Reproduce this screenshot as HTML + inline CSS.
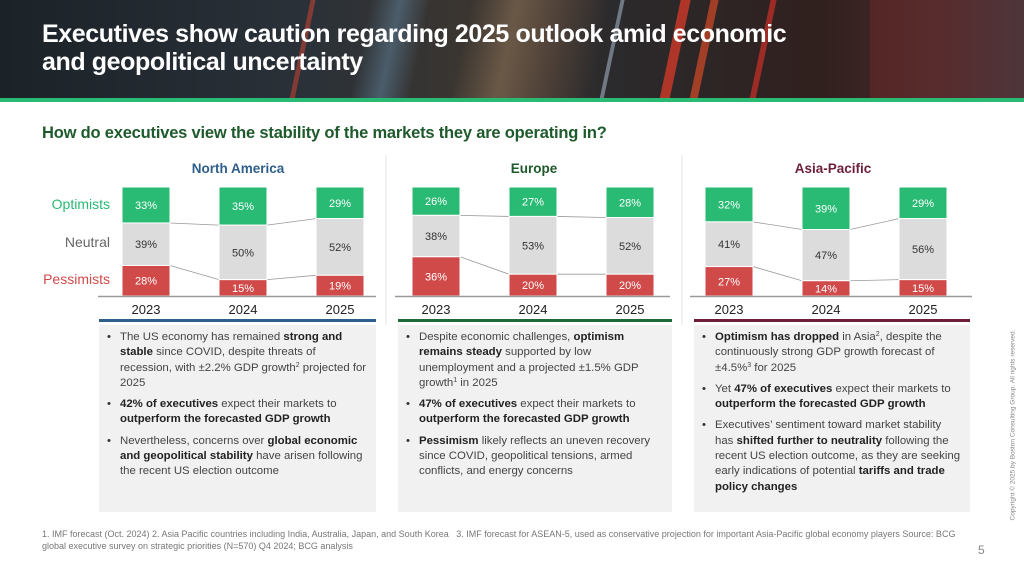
<!DOCTYPE html>
<html><head><meta charset="utf-8">
<style>
*{margin:0;padding:0;box-sizing:border-box}
body{width:1024px;height:576px;position:relative;overflow:hidden;background:#fff;font-family:"Liberation Sans",sans-serif;color:#333}
#hdr{position:absolute;left:0;top:0;width:1024px;height:98px;background:linear-gradient(90deg,#1b2228 0%,#2a3138 30%,#3a3530 45%,#2b2a2c 60%,#30201e 80%,#4a2a2a 92%,#3a3a40 100%);overflow:hidden}
.st{position:absolute;top:-10px;height:120px;transform:skewX(-12deg)}
#gbar{position:absolute;left:0;top:98px;width:1024px;height:4px;background:#29ba74}
h1{position:absolute;left:42px;top:20px;font-size:25px;line-height:28px;color:#fff;font-weight:bold;letter-spacing:-0.4px;white-space:nowrap}
h2{position:absolute;left:42px;top:124px;font-size:16.5px;color:#1e5a2c;font-weight:bold;letter-spacing:-0.2px;white-space:nowrap}
.panel{position:absolute;top:325px;height:187px;background:#f1f1f1;font-size:11.4px;line-height:15.3px;color:#444;padding:5px 8px 0 8px}
.panel ul{list-style:none}
.panel li{position:relative;padding-left:13px;margin-bottom:6px}
.panel li:before{content:"•";position:absolute;left:0;top:0;color:#333}
.panel b{color:#222}
sup{font-size:7px;line-height:0;vertical-align:4px}
.uline{position:absolute;top:319px;height:3px}
#foot{position:absolute;left:42px;top:528px;width:920px;font-size:9px;line-height:12px;color:#777}
#pg{position:absolute;left:978px;top:543px;font-size:12px;color:#888}
#copy{position:absolute;left:1013px;top:425px;font-size:6.5px;color:#888;white-space:nowrap;transform:translate(-50%,-50%) rotate(-90deg)}
</style></head><body>
<div id="hdr">
<div class="st" style="left:360px;width:60px;background:linear-gradient(90deg,transparent,rgba(120,170,210,.35),transparent)"></div>
<div class="st" style="left:460px;width:140px;background:linear-gradient(90deg,transparent,rgba(150,120,90,.55),rgba(120,90,70,.4),transparent)"></div>
<div class="st" style="left:670px;width:10px;background:rgba(230,60,40,.7)"></div>
<div class="st" style="left:700px;width:8px;background:rgba(240,80,40,.6)"></div>
<div class="st" style="left:760px;width:6px;background:rgba(230,50,40,.6)"></div>
<div class="st" style="left:610px;width:4px;background:rgba(180,200,220,.5)"></div>
<div class="st" style="left:300px;width:5px;background:rgba(220,70,50,.5)"></div>
<div style="position:absolute;left:870px;top:0;width:154px;height:98px;background:linear-gradient(90deg,rgba(110,40,40,.5),rgba(90,50,55,.6))"></div>
</div>
<div id="gbar"></div>
<h1>Executives show caution regarding 2025 outlook amid economic<br>and geopolitical uncertainty</h1>
<h2>How do executives view the stability of the markets they are operating in?</h2>

<svg id="chart" style="position:absolute;left:0;top:150px" width="1024" height="175"></svg>

<div class="uline" style="left:99px;width:277px;background:#2e5f8a"></div>
<div class="uline" style="left:398px;width:274px;background:#1e6b3a"></div>
<div class="uline" style="left:694px;width:276px;background:#6e1e3a"></div>

<div class="panel" style="left:99px;width:277px"><ul>
<li>The US economy has remained <b>strong and stable</b> since COVID, despite threats of recession, with ±2.2% GDP growth<sup>2</sup> projected for 2025</li>
<li><b>42% of executives</b> expect their markets to <b>outperform the forecasted GDP growth</b></li>
<li>Nevertheless, concerns over <b>global economic and geopolitical stability</b> have arisen following the recent US election outcome</li></ul></div>
<div class="panel" style="left:398px;width:274px"><ul>
<li>Despite economic challenges, <b>optimism remains steady</b> supported by low unemployment and a projected ±1.5% GDP growth<sup>1</sup> in 2025</li>
<li><b>47% of executives</b> expect their markets to <b>outperform the forecasted GDP growth</b></li>
<li><b>Pessimism</b> likely reflects an uneven recovery since COVID, geopolitical tensions, armed conflicts, and energy concerns</li></ul></div>
<div class="panel" style="left:694px;width:276px"><ul>
<li><b>Optimism has dropped</b> in Asia<sup>2</sup>, despite the continuously strong GDP growth forecast of ±4.5%<sup>3</sup> for 2025</li>
<li>Yet <b>47% of executives</b> expect their markets to <b>outperform the forecasted GDP growth</b></li>
<li>Executives’ sentiment toward market stability has <b>shifted further to neutrality</b> following the recent US election outcome, as they are seeking early indications of potential <b>tariffs and trade policy changes</b></li></ul></div>

<div id="foot">1. IMF forecast (Oct. 2024) 2. Asia Pacific countries including India, Australia, Japan, and South Korea &nbsp; 3. IMF forecast for ASEAN-5, used as conservative projection for important Asia-Pacific global economy players Source: BCG global executive survey on strategic priorities (N=570) Q4 2024; BCG analysis</div>
<div id="pg">5</div>
<div id="copy">Copyright © 2025 by Boston Consulting Group. All rights reserved.</div>

<script>
const regions = ["North America","Europe","Asia-Pacific"];
const years = ["2023","2024","2025"];
const optimists = [[33,35,29],[26,27,28],[32,39,29]];
const neutral = [[39,50,52],[38,53,52],[41,47,56]];
const pessimists = [[28,15,19],[36,20,20],[27,14,15]];

const svg = document.getElementById('chart');
const NS = 'http://www.w3.org/2000/svg';
const TOP = 37, H = 109, BW = 48;
const regionX = [146, 436, 729], STEP = 97;
const regionColors = ['#2e5f8a','#1e5a2c','#6e1e3a'];
const axisRanges = [[98,376],[395,670],[690,972]];
const titleX = [238, 534, 833];
function yScale(p){return TOP + H*p/100;}
function xScale(r,i){return regionX[r] + i*STEP;}
function mk(tag, attrs){const e=document.createElementNS(NS,tag);for(const k in attrs)e.setAttribute(k,attrs[k]);svg.appendChild(e);return e;}
function txt(x,y,s,attrs){const t=mk('text',Object.assign({x:x,y:y,'font-family':'Liberation Sans, sans-serif'},attrs));t.textContent=s;return t;}

[386,682].forEach(x=>{const l=mk('line',{x1:x,x2:x,y1:5,y2:175,stroke:'#e3e3e3','stroke-width':1});

});

const lg=[['Optimists','#29ba74',59],['Neutral','#666',97],['Pessimists','#d04a4a',134]];
lg.forEach(([s,c,y])=>{const t=txt(110,y,s,{'font-size':14,fill:c,'text-anchor':'end'});

});

for(let r=0;r<3;r++){
  const tt=txt(titleX[r],23,regions[r],{'font-size':13.5,'font-weight':'bold',fill:regionColors[r],'text-anchor':'middle'});
  
  
  for(let i=0;i<2;i++){
    const a=yScale(optimists[r][i]), b=yScale(optimists[r][i+1]);
    const c1=yScale(optimists[r][i]+neutral[r][i]), c2=yScale(optimists[r][i+1]+neutral[r][i+1]);
    [[a,b],[c1,c2]].forEach(([y1,y2])=>{const l=mk('line',{x1:xScale(r,i)+BW/2,x2:xScale(r,i+1)-BW/2,y1:y1,y2:y2,stroke:'#999','stroke-width':0.8});
    
    });
  }
  for(let i=0;i<3;i++){
    const x=xScale(r,i)-BW/2;
    const segs=[[0,optimists[r][i],'#29ba74','#fff','optimists'],[optimists[r][i],neutral[r][i],'#dcdcdc','#333','neutral'],[optimists[r][i]+neutral[r][i],pessimists[r][i],'#d04a4a','#fff','pessimists']];
    segs.forEach(([s,v,f,tc,nm])=>{
      const y0=yScale(s), h=yScale(s+v)-y0;
      const rect=mk('rect',{x:x,y:y0,width:BW,height:h,fill:f,stroke:'#fff','stroke-width':1});
      
      
      const t=txt(xScale(r,i),y0+h/2+4,v+'%',{'font-size':11,fill:tc,'text-anchor':'middle'});
      
      
    });
    const yl=txt(xScale(r,i),164,years[i],{'font-size':13,fill:'#222','text-anchor':'middle'});
    
    
  }
  const ax=mk('line',{x1:axisRanges[r][0],x2:axisRanges[r][1],y1:TOP+H+0.5,y2:TOP+H+0.5,stroke:'#999','stroke-width':1.5});
  
  
}
</script>
</body></html>
